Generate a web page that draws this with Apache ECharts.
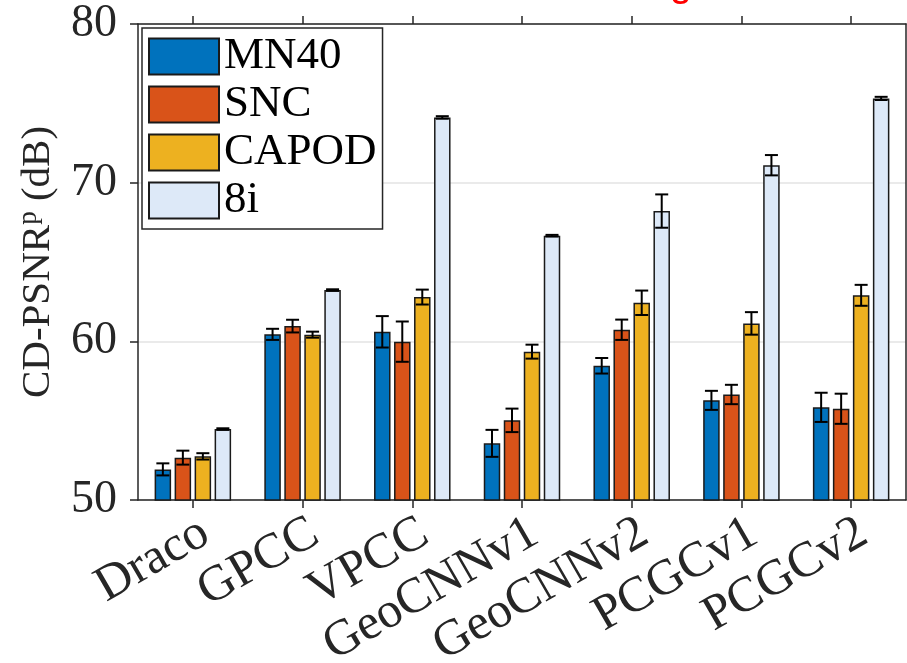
<!DOCTYPE html>
<html>
<head>
<meta charset="utf-8">
<script src="https://cdn.jsdelivr.net/npm/echarts@6/dist/echarts.min.js"></script>
<style>
  html, body { margin: 0; padding: 0; background: #fff; }
  #chart { width: 907px; height: 663px; }
</style>
</head>
<body>
<div id="chart"></div>
<script>
  // data (dB)
  const categories = ['Draco', 'GPCC', 'VPCC', 'GeoCNNv1', 'GeoCNNv2', 'PCGCv1', 'PCGCv2'];
  const seriesNames = ['MN40', 'SNC', 'CAPOD', '8i'];
  const mn40 = [51.93, 60.44, 60.6, 53.57, 58.46, 56.28, 55.84];
  const mn40Err = [0.38, 0.35, 0.99, 0.85, 0.49, 0.6, 0.92];
  const snc = [52.67, 60.96, 59.98, 55.02, 60.73, 56.65, 55.75];
  const sncErr = [0.44, 0.4, 1.27, 0.74, 0.64, 0.61, 0.95];
  const capod = [52.75, 60.42, 62.79, 59.35, 62.43, 61.13, 62.9];
  const capodErr = [0.2, 0.19, 0.47, 0.44, 0.77, 0.71, 0.66];
  const i8 = [54.47, 63.23, 74.11, 66.66, 68.21, 71.1, 75.31];
  const i8Err = [0.05, 0.05, 0.08, 0.05, 1.05, 0.64, 0.1];
  const yTicks = [50, 60, 70, 80];

  const colors = ['#0072BD', '#D95319', '#EDB120', '#DDE9F8'];
  const values = [mn40, snc, capod, i8];
  const errors = [mn40Err, sncErr, capodErr, i8Err];

  const BAR_W = 16.5;
  const BAR_GAP = 3.5;
  const serif = 'Liberation Serif';

  let chartDom = document.getElementById('chart');
  let chart = echarts.init(chartDom);

  let series = [];
  values.forEach((vals, k) => {
    series.push({
      name: seriesNames[k],
      type: 'bar',
      animation: false,
      barWidth: BAR_W,
      barGap: (BAR_GAP / BAR_W * 100) + '%',
      data: vals,
      itemStyle: {
        color: colors[k],
        borderColor: '#1a1a1a',
        borderWidth: 1.5
      },
      z: 2
    });
  });
  // error bars
  values.forEach((vals, k) => {
    let off = (k - 1.5) * (BAR_W + BAR_GAP);
    series.push({
      type: 'custom',
      animation: false,
      silent: true,
      z: 3,
      encode: { x: 0, y: [1, 2] },
      data: vals.map((v, i) => [i, v - errors[k][i], v + errors[k][i]]),
      renderItem: function (params, api) {
        let lo = api.coord([api.value(0), api.value(1)]);
        let hi = api.coord([api.value(0), api.value(2)]);
        let x = lo[0] + off;
        let cap = 6.5;
        let style = { stroke: '#000', lineWidth: 2 };
        return {
          type: 'group',
          children: [
            { type: 'line', shape: { x1: x, y1: lo[1], x2: x, y2: hi[1] }, style: style },
            { type: 'line', shape: { x1: x - cap, y1: lo[1], x2: x + cap, y2: lo[1] }, style: style },
            { type: 'line', shape: { x1: x - cap, y1: hi[1], x2: x + cap, y2: hi[1] }, style: style }
          ]
        };
      }
    });
  });

  let options = {
    backgroundColor: '#fff',
    // title sits above the canvas, only its lowest pixels show
    graphic: [{
      type: 'text',
      x: 500,
      y: 5,
      style: {
        text: 'Performance on',
        font: '38px "Liberation Sans"',
        fill: '#000',
        align: 'right',
        verticalAlign: 'bottom'
      }
    }, {
      type: 'text',
      x: 566,
      y: 5,
      style: {
        text: 'Average',
        font: '40px "Liberation Sans"',
        fill: '#ff0000',
        align: 'left',
        verticalAlign: 'bottom'
      }
    }],
    grid: {
      left: 138,
      right: 1,
      top: 24,
      bottom: 163,
      outerBoundsMode: 'none'
    },
    legend: {
      data: seriesNames,
      orient: 'vertical',
      left: 142,
      top: 28,
      icon: 'rect',
      itemWidth: 70,
      itemHeight: 36,
      itemGap: 3,
      itemTextGap: 8,
      padding: [6, 6, 6, 6],
      borderColor: '#262626',
      borderWidth: 1.5,
      backgroundColor: '#fff',
      selectedMode: false,
      textStyle: {
        fontFamily: serif,
        fontSize: 45,
        lineHeight: 36,
        color: '#000'
      }
    },
    xAxis: [{
      type: 'category',
      data: categories,
      position: 'bottom',
      axisLine: { show: true, lineStyle: { color: '#262626', width: 1.5 } },
      axisTick: { show: true, alignWithLabel: true, length: 8, lineStyle: { color: '#262626', width: 1.5 } },
      axisLabel: {
        rotate: 30,
        margin: 8,
        align: 'right',
        verticalAlign: 'top',
        fontFamily: serif,
        fontSize: 50,
        color: '#262626',
        interval: 0
      },
      splitLine: { show: false }
    }, {
      type: 'category',
      data: categories,
      position: 'top',
      axisLine: { show: true, lineStyle: { color: '#262626', width: 1.5 } },
      axisTick: { show: true, alignWithLabel: true, length: 8, lineStyle: { color: '#262626', width: 1.5 } },
      axisLabel: { show: false }
    }],
    yAxis: [{
      type: 'value',
      min: yTicks[0],
      max: yTicks[yTicks.length - 1],
      interval: yTicks[1] - yTicks[0],
      name: '{a|CD-PSNR}{s|p}{a| (dB)}',
      nameLocation: 'middle',
      nameRotate: 90,
      nameGap: 77,
      nameTextStyle: {
        rich: {
          a: { fontFamily: serif, fontSize: 41, color: '#262626', lineHeight: 46 },
          s: { fontFamily: serif, fontSize: 27, color: '#262626', verticalAlign: 'top', lineHeight: 46 }
        }
      },
      axisLine: { show: true, lineStyle: { color: '#262626', width: 1.5 } },
      axisTick: { show: true, length: 8, lineStyle: { color: '#262626', width: 1.5 } },
      axisLabel: {
        margin: 21,
        fontFamily: serif,
        fontSize: 46,
        color: '#262626'
      },
      splitLine: { show: true, lineStyle: { color: '#e3e3e3', width: 1.5 } }
    }, {
      type: 'value',
      position: 'right',
      min: yTicks[0],
      max: yTicks[yTicks.length - 1],
      interval: yTicks[1] - yTicks[0],
      axisLine: { show: true, lineStyle: { color: '#262626', width: 1.5 } },
      axisTick: { show: false },
      axisLabel: { show: false },
      splitLine: { show: false }
    }],
    series: series
  };

  chart.setOption(options);
</script>
</body>
</html>
